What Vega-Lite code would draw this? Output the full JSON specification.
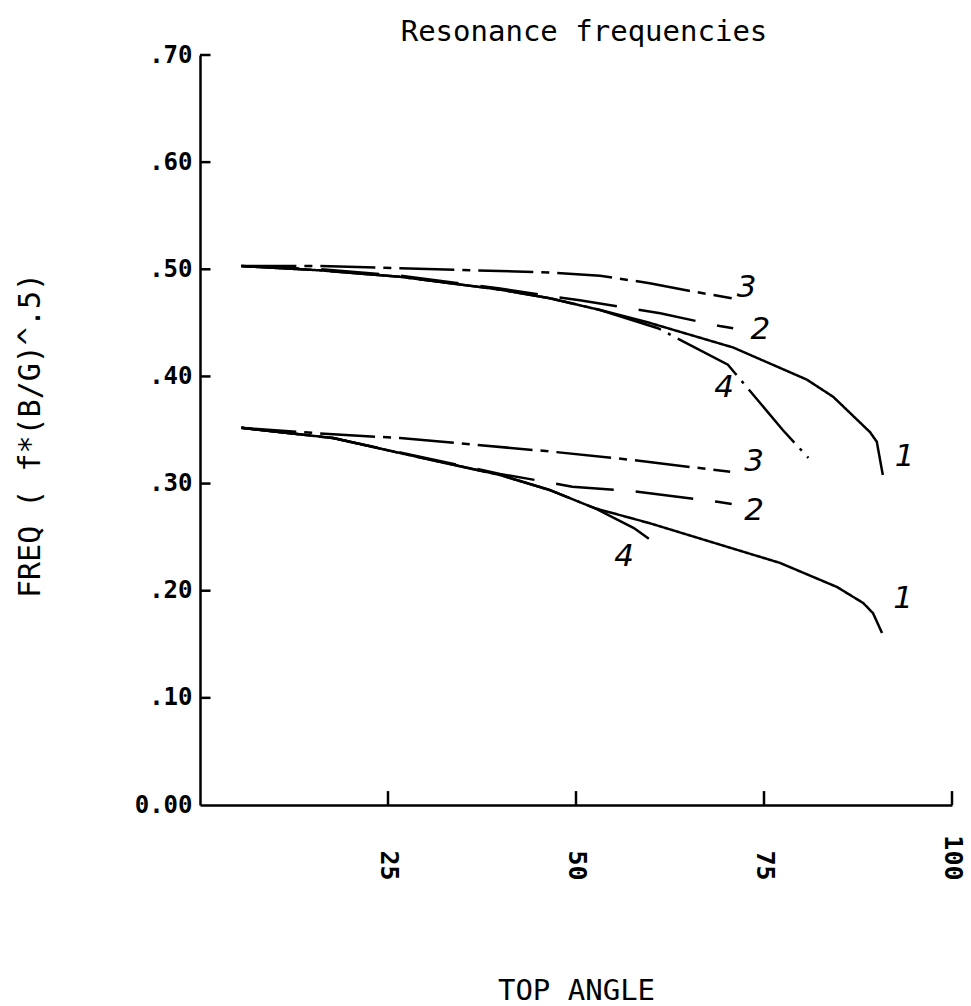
{
  "$schema": "https://vega.github.io/schema/vega-lite/v6.json",
  "width": 752,
  "height": 750,
  "autosize": "none",
  "padding": {"left": 200, "top": 55, "right": 19, "bottom": 201},
  "background": "white",
  "config": {"view": {"stroke": null}, "font": "DejaVu Sans Mono"},
  "title": {
    "text": "Resonance frequencies",
    "font": "DejaVu Sans Mono",
    "fontSize": 29,
    "fontWeight": "normal",
    "color": "black",
    "anchor": "middle",
    "offset": -4,
    "dx": 8
  },
  "datasets": {
    "curves": [
      {"branch": "upper", "curve": "1", "angle": 5.5, "freq": 0.503},
      {"branch": "upper", "curve": "1", "angle": 16, "freq": 0.499},
      {"branch": "upper", "curve": "1", "angle": 26.6, "freq": 0.493},
      {"branch": "upper", "curve": "1", "angle": 39.9, "freq": 0.481},
      {"branch": "upper", "curve": "1", "angle": 46.5, "freq": 0.473},
      {"branch": "upper", "curve": "1", "angle": 53.2, "freq": 0.462},
      {"branch": "upper", "curve": "1", "angle": 59.8, "freq": 0.45},
      {"branch": "upper", "curve": "1", "angle": 70.9, "freq": 0.427},
      {"branch": "upper", "curve": "1", "angle": 80.7, "freq": 0.397},
      {"branch": "upper", "curve": "1", "angle": 84.2, "freq": 0.381},
      {"branch": "upper", "curve": "1", "angle": 89.1, "freq": 0.348},
      {"branch": "upper", "curve": "1", "angle": 90.0, "freq": 0.339},
      {"branch": "upper", "curve": "1", "angle": 90.8, "freq": 0.308},

      {"branch": "upper", "curve": "2", "angle": 5.5, "freq": 0.503},
      {"branch": "upper", "curve": "2", "angle": 16, "freq": 0.5},
      {"branch": "upper", "curve": "2", "angle": 26.6, "freq": 0.494},
      {"branch": "upper", "curve": "2", "angle": 39.9, "freq": 0.482},
      {"branch": "upper", "curve": "2", "angle": 46.5, "freq": 0.475},
      {"branch": "upper", "curve": "2", "angle": 50.5, "freq": 0.471},
      {"branch": "upper", "curve": "2", "angle": 61.2, "freq": 0.459},
      {"branch": "upper", "curve": "2", "angle": 69.1, "freq": 0.447},
      {"branch": "upper", "curve": "2", "angle": 70.9, "freq": 0.445},

      {"branch": "upper", "curve": "3", "angle": 5.5, "freq": 0.503},
      {"branch": "upper", "curve": "3", "angle": 16, "freq": 0.503},
      {"branch": "upper", "curve": "3", "angle": 26.6, "freq": 0.501},
      {"branch": "upper", "curve": "3", "angle": 46.5, "freq": 0.497},
      {"branch": "upper", "curve": "3", "angle": 53.2, "freq": 0.494},
      {"branch": "upper", "curve": "3", "angle": 59.8, "freq": 0.487},
      {"branch": "upper", "curve": "3", "angle": 65, "freq": 0.48},
      {"branch": "upper", "curve": "3", "angle": 70.7, "freq": 0.473},

      {"branch": "upper", "curve": "4", "angle": 5.5, "freq": 0.503},
      {"branch": "upper", "curve": "4", "angle": 16, "freq": 0.499},
      {"branch": "upper", "curve": "4", "angle": 26.6, "freq": 0.493},
      {"branch": "upper", "curve": "4", "angle": 39.9, "freq": 0.481},
      {"branch": "upper", "curve": "4", "angle": 46.5, "freq": 0.473},
      {"branch": "upper", "curve": "4", "angle": 53.2, "freq": 0.462},
      {"branch": "upper", "curve": "4", "angle": 60.9, "freq": 0.445},
      {"branch": "upper", "curve": "4", "angle": 70.2, "freq": 0.411},
      {"branch": "upper", "curve": "4", "angle": 77.5, "freq": 0.35},
      {"branch": "upper", "curve": "4", "angle": 80.9, "freq": 0.324},

      {"branch": "lower", "curve": "1", "angle": 5.5, "freq": 0.352},
      {"branch": "lower", "curve": "1", "angle": 17.7, "freq": 0.3425},
      {"branch": "lower", "curve": "1", "angle": 26.6, "freq": 0.3285},
      {"branch": "lower", "curve": "1", "angle": 39.9, "freq": 0.308},
      {"branch": "lower", "curve": "1", "angle": 46.5, "freq": 0.294},
      {"branch": "lower", "curve": "1", "angle": 52.5, "freq": 0.277},
      {"branch": "lower", "curve": "1", "angle": 59.8, "freq": 0.263},
      {"branch": "lower", "curve": "1", "angle": 77.1, "freq": 0.226},
      {"branch": "lower", "curve": "1", "angle": 84.7, "freq": 0.2035},
      {"branch": "lower", "curve": "1", "angle": 88.2, "freq": 0.1885},
      {"branch": "lower", "curve": "1", "angle": 89.5, "freq": 0.179},
      {"branch": "lower", "curve": "1", "angle": 90.7, "freq": 0.1605},

      {"branch": "lower", "curve": "2", "angle": 5.5, "freq": 0.352},
      {"branch": "lower", "curve": "2", "angle": 17.7, "freq": 0.3425},
      {"branch": "lower", "curve": "2", "angle": 26.6, "freq": 0.329},
      {"branch": "lower", "curve": "2", "angle": 39.9, "freq": 0.309},
      {"branch": "lower", "curve": "2", "angle": 46.5, "freq": 0.301},
      {"branch": "lower", "curve": "2", "angle": 49.5, "freq": 0.297},
      {"branch": "lower", "curve": "2", "angle": 57.4, "freq": 0.293},
      {"branch": "lower", "curve": "2", "angle": 68.8, "freq": 0.283},
      {"branch": "lower", "curve": "2", "angle": 70.7, "freq": 0.281},

      {"branch": "lower", "curve": "3", "angle": 5.5, "freq": 0.352},
      {"branch": "lower", "curve": "3", "angle": 17.7, "freq": 0.346},
      {"branch": "lower", "curve": "3", "angle": 26.6, "freq": 0.3425},
      {"branch": "lower", "curve": "3", "angle": 46.5, "freq": 0.33},
      {"branch": "lower", "curve": "3", "angle": 57.5, "freq": 0.322},
      {"branch": "lower", "curve": "3", "angle": 70.5, "freq": 0.311},

      {"branch": "lower", "curve": "4", "angle": 5.5, "freq": 0.352},
      {"branch": "lower", "curve": "4", "angle": 17.7, "freq": 0.3425},
      {"branch": "lower", "curve": "4", "angle": 26.6, "freq": 0.3285},
      {"branch": "lower", "curve": "4", "angle": 39.9, "freq": 0.308},
      {"branch": "lower", "curve": "4", "angle": 46.5, "freq": 0.294},
      {"branch": "lower", "curve": "4", "angle": 52.5, "freq": 0.277},
      {"branch": "lower", "curve": "4", "angle": 57.7, "freq": 0.2585},
      {"branch": "lower", "curve": "4", "angle": 60.5, "freq": 0.2445}
    ],
    "labels": [
      {"curve": "3", "angle": 72.7, "freq": 0.4825},
      {"curve": "2", "angle": 74.5, "freq": 0.4433},
      {"curve": "4", "angle": 69.7, "freq": 0.389},
      {"curve": "1", "angle": 93.7, "freq": 0.325},
      {"curve": "3", "angle": 73.7, "freq": 0.32},
      {"curve": "2", "angle": 73.7, "freq": 0.2744},
      {"curve": "4", "angle": 56.4, "freq": 0.2315},
      {"curve": "1", "angle": 93.5, "freq": 0.1923}
    ],
    "yticks": [
      {"freq": 0.1}, {"freq": 0.2}, {"freq": 0.3}, {"freq": 0.4},
      {"freq": 0.5}, {"freq": 0.6}, {"freq": 0.7}
    ],
    "xticks": [
      {"angle": 25}, {"angle": 50}, {"angle": 75}, {"angle": 100}
    ]
  },
  "layer": [
    {
      "data": {"name": "curves"},
      "mark": {"type": "line", "stroke": "black", "strokeWidth": 2.5, "strokeCap": "butt"},
      "encoding": {
        "x": {
          "field": "angle",
          "type": "quantitative",
          "scale": {"domain": [0, 100], "nice": false, "zero": false},
          "axis": {
            "values": [25, 50, 75, 100],
            "grid": false,
            "ticks": false,
            "domainColor": "black",
            "domainWidth": 2.5,
            "labelAngle": 90,
            "labelAlign": "right",
            "labelBaseline": "middle",
            "labelPadding": 75,
            "labelFont": "DejaVu Sans Mono",
            "labelFontSize": 25,
            "labelFontWeight": "bold",
            "labelColor": "black",
            "labelOverlap": false,
            "labelFlush": false,
            "title": "TOP ANGLE",
            "titleFont": "DejaVu Sans Mono",
            "titleFontSize": 29,
            "titleFontWeight": "normal",
            "titleColor": "black",
            "titleY": 185,
            "titleBaseline": "middle"
          }
        },
        "y": {
          "field": "freq",
          "type": "quantitative",
          "scale": {"domain": [0, 0.7], "nice": false},
          "axis": {
            "values": [0, 0.1, 0.2, 0.3, 0.4, 0.5, 0.6, 0.7],
            "grid": false,
            "ticks": false,
            "domainColor": "black",
            "domainWidth": 2.5,
            "labelExpr": "datum.value == 0 ? '0.00' : replace(format(datum.value, '.2f'), '0.', '.')",
            "labelPadding": 8,
            "labelFont": "DejaVu Sans Mono",
            "labelFontSize": 24,
            "labelFontWeight": "bold",
            "labelColor": "black",
            "labelOverlap": false,
            "labelFlush": false,
            "title": "FREQ ( f*(B/G)^.5)",
            "titleFont": "DejaVu Sans Mono",
            "titleFontSize": 30,
            "titleFontWeight": "normal",
            "titleColor": "black",
            "titleAngle": -90,
            "titleX": -170,
            "titleY": 380,
            "titleAlign": "center",
            "titleBaseline": "middle"
          }
        },
        "detail": {"field": "branch"},
        "strokeDash": {
          "field": "curve",
          "type": "nominal",
          "scale": {
            "domain": ["1", "2", "3", "4"],
            "range": [[1, 0], [58, 22], [55, 8, 8, 8], [70, 8, 3, 8]]
          },
          "legend": null
        }
      }
    },
    {
      "data": {"name": "yticks"},
      "mark": {"type": "rule", "stroke": "black", "strokeWidth": 2.5},
      "encoding": {
        "y": {"field": "freq", "type": "quantitative"},
        "x": {"datum": 0},
        "x2": {"datum": 1.4}
      }
    },
    {
      "data": {"name": "xticks"},
      "mark": {"type": "rule", "stroke": "black", "strokeWidth": 2.5},
      "encoding": {
        "x": {"field": "angle", "type": "quantitative"},
        "y": {"datum": 0},
        "y2": {"datum": 0.013}
      }
    },
    {
      "data": {"name": "labels"},
      "mark": {"type": "text", "font": "DejaVu Sans", "fontSize": 31, "fontStyle": "italic", "color": "black", "align": "center", "baseline": "middle"},
      "encoding": {
        "x": {"field": "angle", "type": "quantitative"},
        "y": {"field": "freq", "type": "quantitative"},
        "text": {"field": "curve"}
      }
    }
  ]
}
